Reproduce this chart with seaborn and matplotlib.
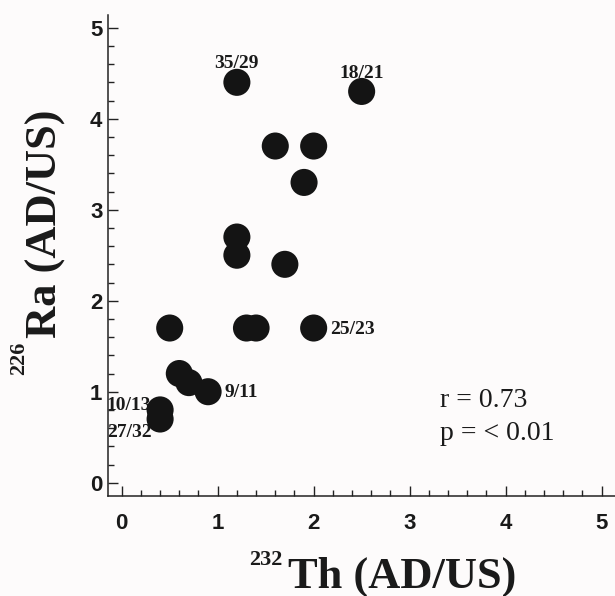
import numpy as np
import pandas as pd
import seaborn as sns
import matplotlib.pyplot as plt
from matplotlib.ticker import MultipleLocator

# valores
th = [1.2, 2.5, 1.6, 2.0, 1.9, 1.2, 1.2, 1.7, 0.5, 1.3, 1.4, 2.0, 0.6, 0.7, 0.9, 0.4, 0.4]
ra = [4.4, 4.3, 3.7, 3.7, 3.3, 2.7, 2.5, 2.4, 1.7, 1.7, 1.7, 1.7, 1.2, 1.1, 1.0, 0.8, 0.7]
tags = ['35/29', '18/21', '', '', '', '', '', '', '', '', '', '25/23', '', '', '9/11', '10/13', '27/32']

df = pd.DataFrame({'Th': th, 'Ra': ra, 'tag': tags})

# posicao dos rotulos (offset em pontos, alinhamento)
tag_style = {
    '35/29': ((0, 10.5), 'center', 'baseline'),
    '18/21': ((0, 10), 'center', 'baseline'),
    '25/23': ((12, -1), 'left', 'center'),
    '9/11': ((11.5, -0.5), 'left', 'center'),
    '10/13': ((-6.5, 3.5), 'right', 'center'),
    '27/32': ((-6, -9.5), 'right', 'center'),
}

sns.set_style('ticks')
plt.rcParams['font.family'] = ['Liberation Sans', 'DejaVu Sans']

W, H = 615, 596
bg = '#fdfbfb'
ink = '#1a1a1a'
fig = plt.figure(figsize=(W / 100, H / 100), dpi=100, facecolor=bg)
ax = fig.add_axes([108 / W, 100 / H, 507 / W, 481 / H])
ax.set_facecolor(bg)

sns.scatterplot(data=df, x='Th', y='Ra', s=380, color='#141414', edgecolor='none',
                linewidth=0, ax=ax, zorder=3)

for _, row in df[df['tag'] != ''].iterrows():
    off, ha, va = tag_style[row['tag']]
    ax.annotate(row['tag'], xy=(row['Th'], row['Ra']), xytext=off, textcoords='offset points',
                ha=ha, va=va, fontsize=14, fontweight='bold', family='Liberation Serif',
                color=ink, zorder=2)

ax.set_xlim(-0.143, 5.14)
ax.set_ylim(-0.146, 5.14)
ax.xaxis.set_major_locator(MultipleLocator(1))
ax.yaxis.set_major_locator(MultipleLocator(1))
ax.xaxis.set_minor_locator(MultipleLocator(0.2))
ax.yaxis.set_minor_locator(MultipleLocator(0.2))
ax.tick_params(which='major', direction='in', length=7, width=1, color='#222222')
ax.tick_params(which='minor', direction='in', length=4, width=1, color='#222222')
ax.tick_params(axis='x', which='major', pad=12)
ax.tick_params(axis='y', which='major', pad=4)
for lab in ax.get_xticklabels() + ax.get_yticklabels():
    lab.set_fontsize(16)
    lab.set_fontweight('bold')
    lab.set_color(ink)

sns.despine(ax=ax)
for side in ['left', 'bottom']:
    ax.spines[side].set_linewidth(1.1)
    ax.spines[side].set_color('#222222')

ax.set_xlabel('')
ax.set_ylabel('')

ax.text(3.32, 0.835, 'r = 0.73', fontsize=20, family='Liberation Serif', color=ink, va='baseline')
ax.text(3.32, 0.47, 'p = < 0.01', fontsize=20, family='Liberation Serif', color=ink, va='baseline')

# rotulos dos eixos com numero de massa sobrescrito
serif = dict(family='Liberation Serif', fontweight='bold', color=ink, rotation_mode='anchor')
fig.text(288 / W, 1 - 588 / H, 'Th (AD/US)', fontsize=32, ha='left', va='baseline', **serif)
fig.text(283 / W, 1 - 565 / H, '232', fontsize=16, ha='right', va='baseline', **serif)
fig.text(57 / W, 1 - 338 / H, 'Ra (AD/US)', fontsize=32, ha='left', va='baseline',
         rotation=90, **serif)
fig.text(24 / W, 1 - 342 / H, '226', fontsize=16, ha='right', va='baseline',
         rotation=90, **serif)

plt.savefig('out.png', dpi=100, facecolor=bg)
